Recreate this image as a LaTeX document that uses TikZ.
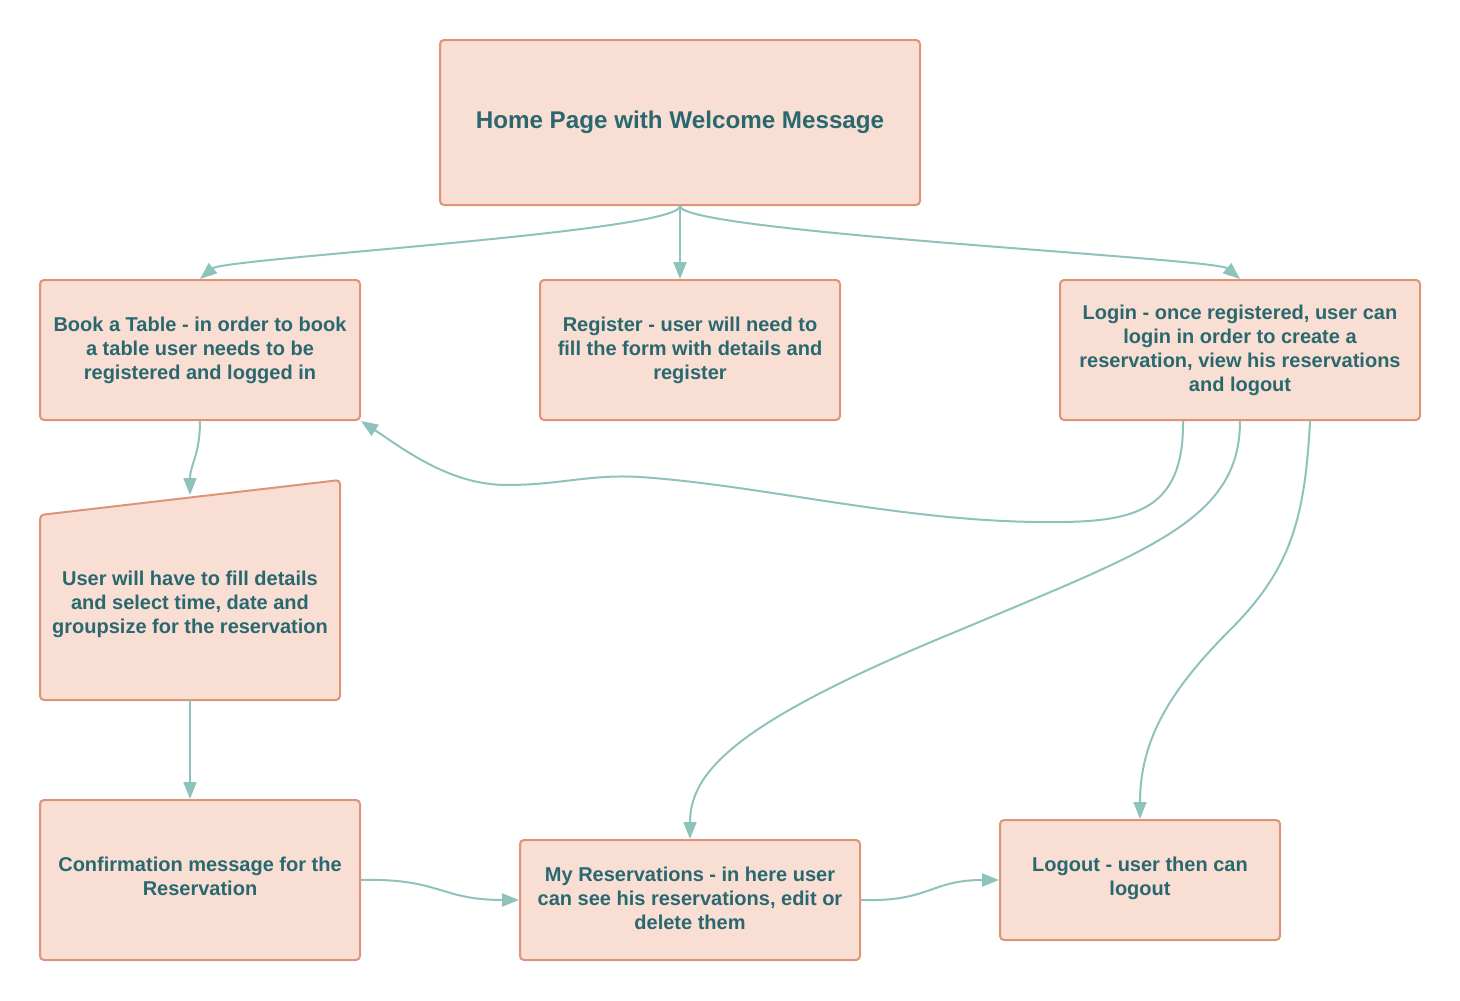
\documentclass[tikz,border=0pt]{standalone}
\usepackage{fontspec}
\setmainfont{Liberation Sans}
\usetikzlibrary{arrows.meta}
\definecolor{boxfill}{HTML}{F8DED3}
\definecolor{boxline}{HTML}{DE9478}
\definecolor{txt}{HTML}{2A6870}
\definecolor{linkcol}{HTML}{8EC3BD}
\begin{document}
\begin{tikzpicture}[x=1pt,y=-1pt,
  box/.style={draw=boxline, fill=boxfill, line width=2pt, rounded corners=4pt,
    inner sep=0pt, align=center, text=txt,
    font=\fontsize{20}{24}\selectfont\bfseries},
  label/.style={inner sep=0pt, align=center, text=txt,
    font=\fontsize{20}{24}\selectfont\bfseries},
  flow/.style={draw=linkcol, line width=2pt, -{Triangle[length=17pt,width=13pt]}}]
\useasboundingbox (0,0) rectangle (1460,1001);

% main boxes
\node[box, minimum width=480pt, minimum height=165pt, font=\fontsize{24.2}{29}\selectfont\bfseries]
  (home) at (680,122.5) {};
\node[label, font=\fontsize{24.2}{29}\selectfont\bfseries] (hometxt) at (680,122) {Home Page with Welcome Message};
\node[box, minimum width=320pt, minimum height=140pt] (book) at (200,350)
  {Book a Table - in order to book\\a table user needs to be\\registered and logged in};
\node[box, minimum width=300pt, minimum height=140pt] (register) at (690,350)
  {Register - user will need to\\fill the form with details and\\register};
\node[box, minimum width=360pt, minimum height=140pt] (login) at (1240,350)
  {Login - once registered, user can\\login in order to create a\\reservation, view his reservations\\and logout};

% manual input shape for the reservation details
\coordinate (dtl) at (40,515);
\coordinate (dtr) at (340,480);
\coordinate (dbr) at (340,700);
\coordinate (dbl) at (40,700);
\draw[draw=boxline, fill=boxfill, line width=2pt, rounded corners=4pt]
  (dtl) -- (dtr) -- (dbr) -- (dbl) -- cycle;
\node[label] (details) at (190,604)
  {User will have to fill details\\and select time, date and\\groupsize for the reservation};
\coordinate (detailtop) at (190,495);
\coordinate (detailbot) at (190,700);

\node[box, minimum width=320pt, minimum height=160pt] (confirm) at (200,880) {};
\node[label] (confirmtxt) at (200,876) {Confirmation message for the\\Reservation};
\node[box, minimum width=340pt, minimum height=120pt] (myres) at (690,900) {};
\node[label] (myrestxt) at (690,898) {My Reservations - in here user\\can see his reservations, edit or\\delete them};
\node[box, minimum width=280pt, minimum height=120pt] (logout) at (1140,880) {};
\node[label] (logouttxt) at (1140,878) {Logout - user then can\\logout};

% connectors
\draw[flow] (home.south) .. controls (680,232) and (225,258) .. (book.north);
\draw[flow] (home.south) -- (home.south |- register.north);
\draw[flow] (home.south) .. controls (680,232) and (1215,258) .. (login.north);

\draw[flow] (book.south) .. controls (200,455) and (190,465) .. (detailtop);
\draw[flow] (detailbot) -- (detailbot |- confirm.north);

\draw[flow] ([xshift=-57pt]login.south) .. controls (1184,515) and (1130,523) .. (1040,522)
  .. controls (900,521) and (760,485) .. (640,477)
  .. controls (590,474) and (560,485) .. (507,485)
  .. controls (450,485) and (405,450) .. (book.south east);
\draw[flow] (login.south) .. controls (1240,520) and (1150,550) .. (960,630)
  .. controls (740,720) and (690,770) .. (myres.north);
\draw[flow] ([xshift=70pt]login.south) .. controls (1305,520) and (1290,570) .. (1230,630)
  .. controls (1170,690) and (1140,740) .. (logout.north);

\draw[flow] (confirm.east) .. controls (440,878) and (440,900) .. (myres.west);
\draw[flow] (myres.east) .. controls (930,902) and (930,880) .. (logout.west);
\end{tikzpicture}
\end{document}
